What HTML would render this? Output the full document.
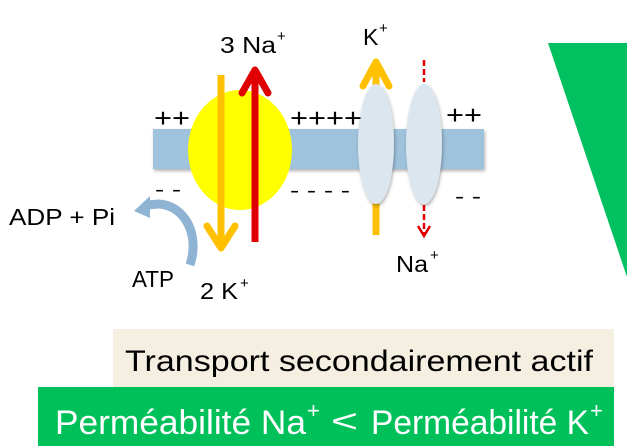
<!DOCTYPE html>
<html><head><meta charset="utf-8"><style>
html,body{margin:0;padding:0;background:#fff;width:629px;height:448px;overflow:hidden}
svg{display:block}
text{font-family:"Liberation Sans",sans-serif}
</style></head><body>
<svg width="629" height="448" viewBox="0 0 629 448" xmlns="http://www.w3.org/2000/svg">
<defs>
<filter id="sh" x="-20%" y="-20%" width="140%" height="140%"><feDropShadow dx="1" dy="2" stdDeviation="1.5" flood-opacity="0.3"/></filter>
</defs>
<rect x="153" y="129" width="331" height="40" fill="#9fc2dd" filter="url(#sh)"/>
<ellipse cx="240" cy="150" rx="52" ry="60" fill="#ffff00"/>
<line x1="221" y1="75" x2="221" y2="246" stroke="#ffc000" stroke-width="7"/>
<polyline points="207,226 221,248 235,226" fill="none" stroke="#ffc000" stroke-width="7" stroke-linecap="round" stroke-linejoin="round"/>
<line x1="255" y1="242" x2="255" y2="70" stroke="#e00000" stroke-width="7"/>
<polyline points="242,93 255,70 268,93" fill="none" stroke="#e00000" stroke-width="7" stroke-linecap="round" stroke-linejoin="round"/>
<line x1="376" y1="235" x2="376" y2="62" stroke="#ffc000" stroke-width="7"/>
<polyline points="363,86 376,62 389,86" fill="none" stroke="#ffc000" stroke-width="7" stroke-linecap="round" stroke-linejoin="round"/>
<ellipse cx="376" cy="144" rx="18" ry="60" fill="#dce6ee" filter="url(#sh)"/>
<ellipse cx="424" cy="144" rx="18" ry="60" fill="#dce6ee" filter="url(#sh)"/>
<line x1="424" y1="60" x2="424" y2="82" stroke="#e00000" stroke-width="2.5" stroke-dasharray="6,3"/>
<line x1="424" y1="205" x2="424" y2="236" stroke="#e00000" stroke-width="2.5" stroke-dasharray="6,3"/>
<polyline points="418,226 424,236 430,226" fill="none" stroke="#e00000" stroke-width="2.5"/>
<path d="M190,265 C200,235 185,205 158,204 L148,205" fill="none" stroke="#8fb3d3" stroke-width="9"/>
<polygon points="134,211 150,196 150,218" fill="#8fb3d3"/>
<text x="154" y="127" font-size="26" textLength="36" lengthAdjust="spacingAndGlyphs">++</text>
<text x="290" y="127" font-size="26" textLength="72" lengthAdjust="spacingAndGlyphs">++++</text>
<text x="446" y="124" font-size="26" textLength="36" lengthAdjust="spacingAndGlyphs">++</text>
<text x="155" y="196" font-size="20" textLength="26" lengthAdjust="spacingAndGlyphs">- -</text>
<text x="290" y="197" font-size="20" textLength="60" lengthAdjust="spacingAndGlyphs">- - - -</text>
<text x="455" y="203" font-size="20" textLength="26" lengthAdjust="spacingAndGlyphs">- -</text>
<text x="220" y="53" font-size="23" textLength="56" lengthAdjust="spacingAndGlyphs">3 Na</text>
<text x="277" y="41" font-size="15">+</text>
<text x="363" y="45" font-size="23">K</text>
<text x="379" y="33" font-size="15">+</text>
<text x="396" y="272" font-size="23" textLength="32" lengthAdjust="spacingAndGlyphs">Na</text>
<text x="430" y="260" font-size="15">+</text>
<text x="9" y="225" font-size="23" textLength="106" lengthAdjust="spacingAndGlyphs">ADP + Pi</text>
<text x="132" y="287" font-size="23" textLength="42" lengthAdjust="spacingAndGlyphs">ATP</text>
<text x="200" y="299" font-size="23" textLength="38" lengthAdjust="spacingAndGlyphs">2 K</text>
<text x="240" y="288" font-size="15">+</text>
<polygon points="548,43 627,43 627,277" fill="#00c060"/>
<rect x="113" y="329" width="501" height="58" fill="#f5efe1"/>
<text x="125" y="371" font-size="30" textLength="468" lengthAdjust="spacingAndGlyphs">Transport secondairement actif</text>
<rect x="38" y="387" width="576" height="59" fill="#00c05a"/>
<g fill="#fff">
<text x="55" y="434" font-size="34" textLength="251" lengthAdjust="spacingAndGlyphs">Perméabilité Na</text>
<text x="307" y="418" font-size="22">+</text>
<text x="331" y="432" font-size="32" textLength="27" lengthAdjust="spacingAndGlyphs">&lt;</text>
<text x="371" y="434" font-size="34" textLength="218" lengthAdjust="spacingAndGlyphs">Perméabilité K</text>
<text x="590" y="418" font-size="22">+</text>
</g>
</svg>
</body></html>
